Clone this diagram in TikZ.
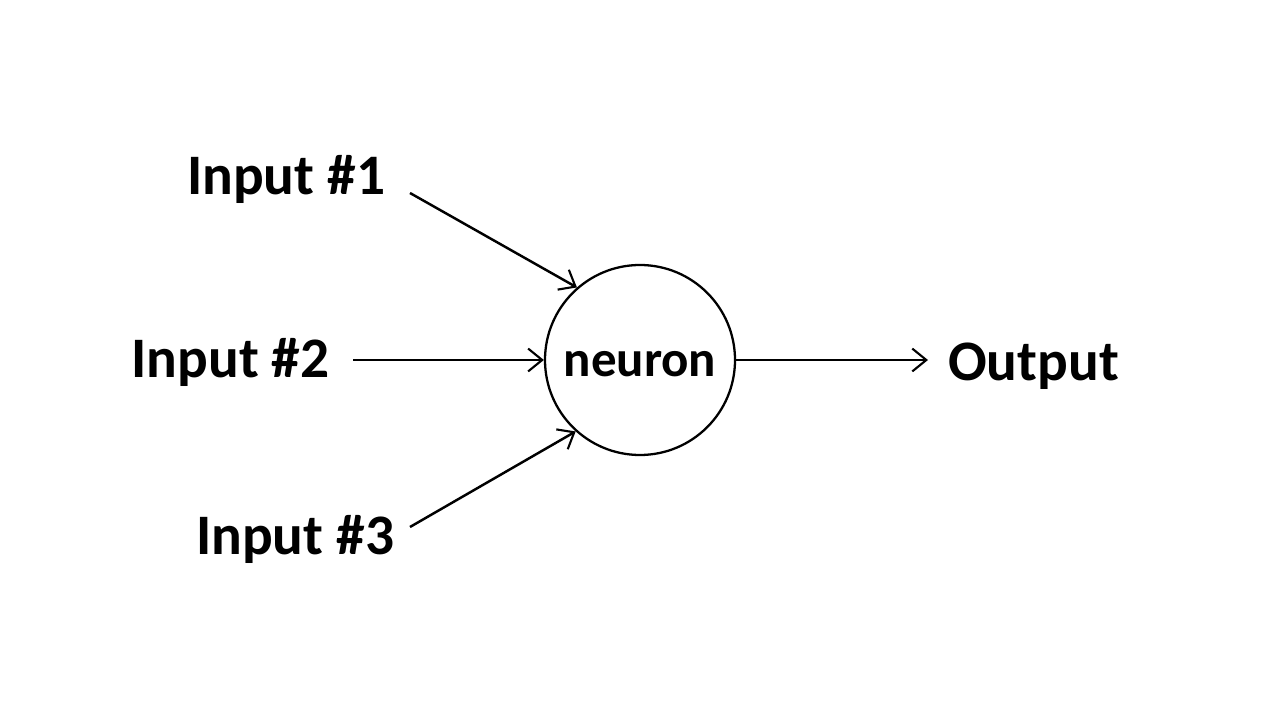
\documentclass[tikz,border=0pt]{standalone}
\usepackage{fontspec}
\setmainfont{Carlito}
\usepackage{tikz}
\usetikzlibrary{arrows.meta}

\begin{document}
\begin{tikzpicture}[
        label/.style={font=\bfseries\fontsize{32.6}{38}\selectfont, anchor=base, inner sep=0pt},
        link/.style={line width=1.4pt, -{Straight Barb[length=8pt, width=13pt, line width=1.2pt]}}
    ]
                \useasboundingbox (0, 0) rectangle (25.6, 14.4);

                \node[draw, circle, line width=1.3pt, minimum size=3.8cm, inner sep=0pt, text height=0.67cm,
                      font=\bfseries\fontsize{29}{34}\selectfont] (neuron) at (12.8, 7.2) {neuron};

                \node[label] (in1) at (5.72, 10.5) {Input \#1};
                \node[label] (in2) at (4.61, 6.84) {Input \#2};
                \node[label] (in3) at (5.9, 3.3) {Input \#3};
                \node[label] (out) at (20.67, 6.78) {Output};

                \coordinate (a1) at (8.2, 10.54);
                \coordinate (a2) at (7.06, 7.2);
                \coordinate (a3) at (8.2, 3.86);
                \coordinate (o1) at (18.56, 7.2);

                \draw[link] (a1) -- (neuron.131.6);
                \draw[link] (a2) -- (neuron.west);
                \draw[link] (a3) -- (neuron.228.4);
                \draw[link] (neuron.east) -- (o1);
            \end{tikzpicture}
\end{document}
